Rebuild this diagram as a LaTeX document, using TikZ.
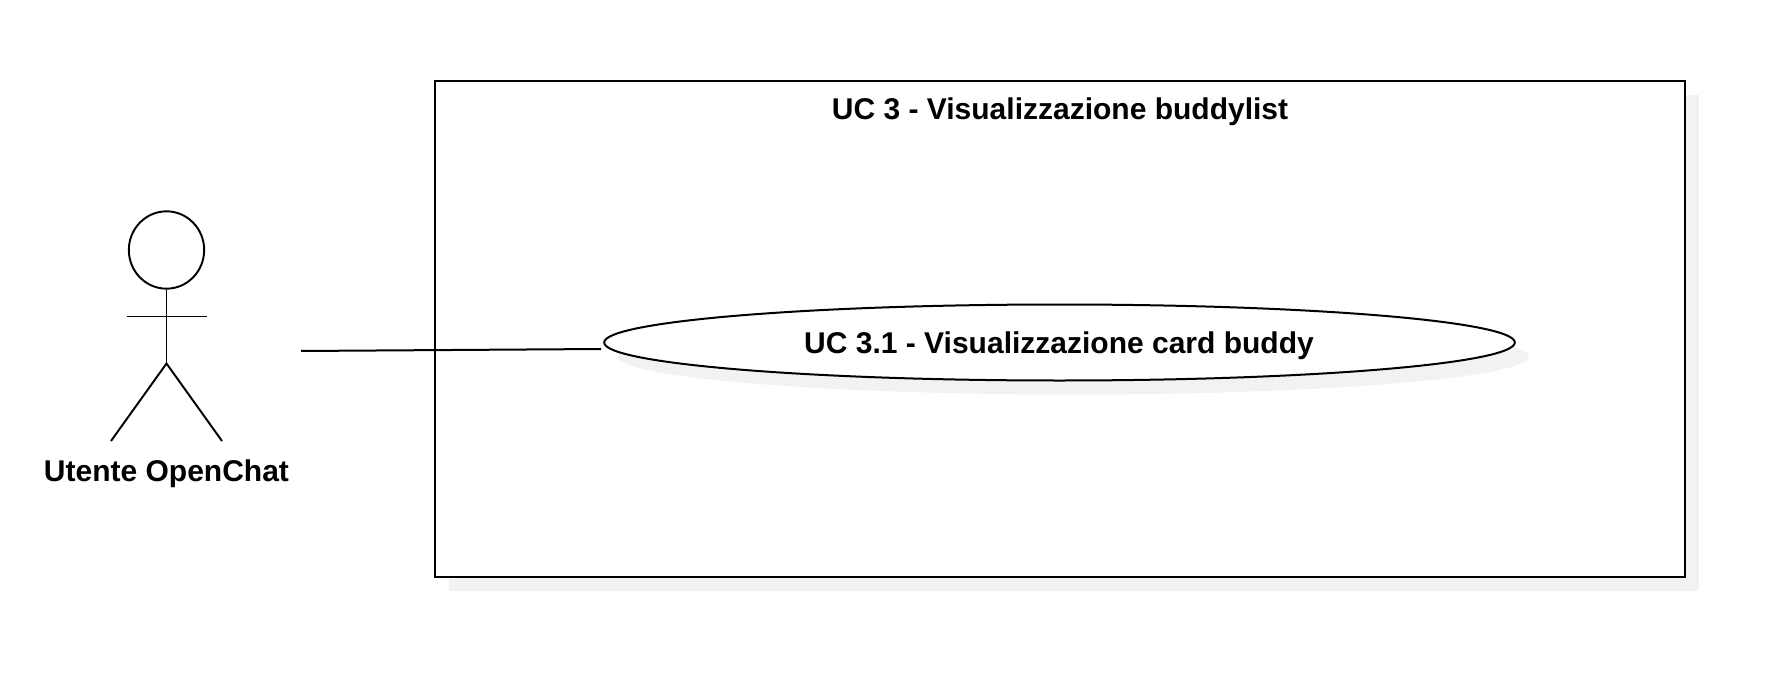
\documentclass[tikz,border=0pt]{standalone}
\usepackage{fontspec}
\setmainfont{Liberation Sans}
\usetikzlibrary{shapes.geometric,shadows}
\definecolor{shadowgray}{RGB}{242,242,242}
\tikzset{
  ucshadow/.style={drop shadow={shadow xshift=10.5pt,shadow yshift=-10.5pt,fill=shadowgray,opacity=1}},
  ucbox/.style={draw,fill=white,line width=1.7pt,inner sep=0pt,ucshadow},
  ucellipse/.style={ellipse,draw,fill=white,line width=1.5pt,inner sep=0pt,ucshadow},
  uctext/.style={inner sep=0.75pt,font=\fontsize{22.5}{26}\selectfont\bfseries},
  stick/.style={line width=1.45pt},
  assoc/.style={line width=1.5pt}
}
\begin{document}
\begin{tikzpicture}[x=0.75pt,y=0.75pt,yscale=-1,xscale=1]
\useasboundingbox (0,0) rectangle (1785,674);

%Shape: Rectangle
\node [ucbox,minimum width=937.5pt,minimum height=372pt] (system) at (1060,329) {};
%Shape: Ellipse
\node [ucellipse,minimum width=683pt,minimum height=57pt] (usecase) at (1059.5,342.5) {};
%Shape: Ellipse
\node [ellipse,draw,stick,inner sep=0pt,minimum width=56.5pt,minimum height=58pt] (head) at (166.5,250) {};

\coordinate (neck) at (166.5,316.5);
\coordinate (hip) at (166.5,363.5);
\coordinate (armleft) at (126.5,316.5);
\coordinate (armright) at (206.5,316.5);
\coordinate (legleft) at (111,441);
\coordinate (legright) at (222,441);
\coordinate (assocstart) at (301,351);
\coordinate (assocend) at ([shift={(-2,6.5)}]usecase.west);

%Straight Lines
\draw [stick] (head.south) -- (hip) ;
\draw [stick] (armleft) -- (armright) ;
\draw [stick] (legleft) -- (hip) -- (legright) ;
%Straight Lines
\draw [assoc] (assocstart) -- (assocend) ;

% Text Node
\node [uctext] (systemtitle) at (1060,111.5) {UC 3 - Visualizzazione buddylist};
% Text Node
\node [uctext] (usecasetitle) at (1059,346) {UC 3.1 - Visualizzazione card buddy};
% Text Node
\node [uctext] (actorname) at (166.5,473.5) {Utente OpenChat};
\end{tikzpicture}
\end{document}
